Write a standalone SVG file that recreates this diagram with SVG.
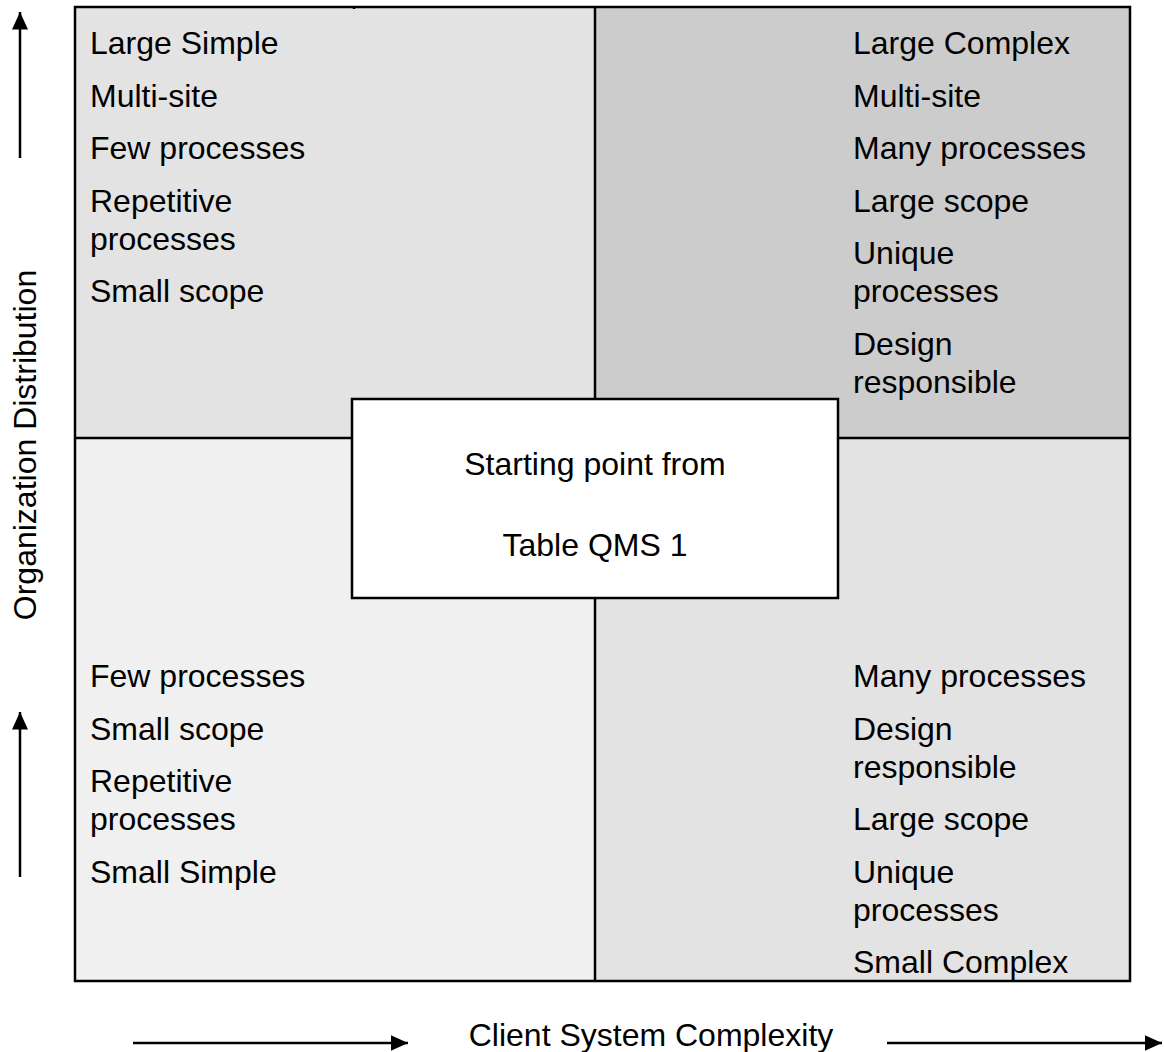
<svg xmlns="http://www.w3.org/2000/svg" width="1164" height="1052" viewBox="0 0 1164 1052">
<defs>
<style>
.t{font-family:"Liberation Sans",Arial,sans-serif;font-size:32px;fill:#000}
.c{text-anchor:middle}
.ln{stroke:#000;stroke-width:2.5;fill:none}
</style>
<marker id="ah" markerWidth="8" markerHeight="8" refX="7" refY="4" orient="auto" markerUnits="strokeWidth">
<path d="M0,0.8 L7,4 L0,7.2 Z" fill="#000"/>
</marker>
</defs>
<rect x="0" y="0" width="1164" height="1052" fill="#fff"/>
<g id="quadrant-large-simple">
<rect x="75" y="7" width="520" height="431" fill="#e3e3e3"/>
<text class="t" x="90" y="54">Large Simple</text>
<text class="t" x="90" y="106.5">Multi-site</text>
<text class="t" x="90" y="159">Few processes</text>
<text class="t" x="90" y="211.5">Repetitive</text>
<text class="t" x="90" y="249.5">processes</text>
<text class="t" x="90" y="302">Small scope</text>
</g>
<g id="quadrant-large-complex">
<rect x="595" y="7" width="535" height="431" fill="#cccccc"/>
<text class="t" x="853" y="54">Large Complex</text>
<text class="t" x="853" y="106.5">Multi-site</text>
<text class="t" x="853" y="159">Many processes</text>
<text class="t" x="853" y="211.5">Large scope</text>
<text class="t" x="853" y="264">Unique</text>
<text class="t" x="853" y="302">processes</text>
<text class="t" x="853" y="354.5">Design</text>
<text class="t" x="853" y="392.5">responsible</text>
</g>
<g id="quadrant-small-simple">
<rect x="75" y="438" width="520" height="543" fill="#f0f0f0"/>
<text class="t" x="90" y="687">Few processes</text>
<text class="t" x="90" y="739.5">Small scope</text>
<text class="t" x="90" y="792">Repetitive</text>
<text class="t" x="90" y="830">processes</text>
<text class="t" x="90" y="882.5">Small Simple</text>
</g>
<g id="quadrant-small-complex">
<rect x="595" y="438" width="535" height="543" fill="#e3e3e3"/>
<text class="t" x="853" y="687">Many processes</text>
<text class="t" x="853" y="739.5">Design</text>
<text class="t" x="853" y="777.5">responsible</text>
<text class="t" x="853" y="830">Large scope</text>
<text class="t" x="853" y="882.5">Unique</text>
<text class="t" x="853" y="920.5">processes</text>
<text class="t" x="853" y="973">Small Complex</text>
</g>
<g id="grid">
<rect class="ln" x="75" y="7" width="1055" height="974"/>
<line class="ln" x1="595" y1="7" x2="595" y2="981"/>
<line class="ln" x1="75" y1="438" x2="1130" y2="438"/>
<line class="ln" x1="354" y1="7" x2="354" y2="9" stroke-width="2"/>
</g>
<g id="start-box">
<rect x="352" y="399" width="486" height="199" fill="#fff" stroke="#000" stroke-width="2.5"/>
<text class="t c" x="595" y="475">Starting point from</text>
<text class="t c" x="595" y="556">Table QMS 1</text>
</g>
<g id="axis-labels">
<text class="t c" x="651" y="1046">Client System Complexity</text>
<text class="t c" transform="translate(36,445) rotate(-90)">Organization Distribution</text>
</g>
<g id="connectors">
<line class="ln" x1="20" y1="158" x2="20" y2="12" marker-end="url(#ah)"/>
<line class="ln" x1="20" y1="877" x2="20" y2="712" marker-end="url(#ah)"/>
<line class="ln" x1="133" y1="1043" x2="408" y2="1043" marker-end="url(#ah)"/>
<line class="ln" x1="887" y1="1043" x2="1162" y2="1043" marker-end="url(#ah)"/>
</g>
</svg>
